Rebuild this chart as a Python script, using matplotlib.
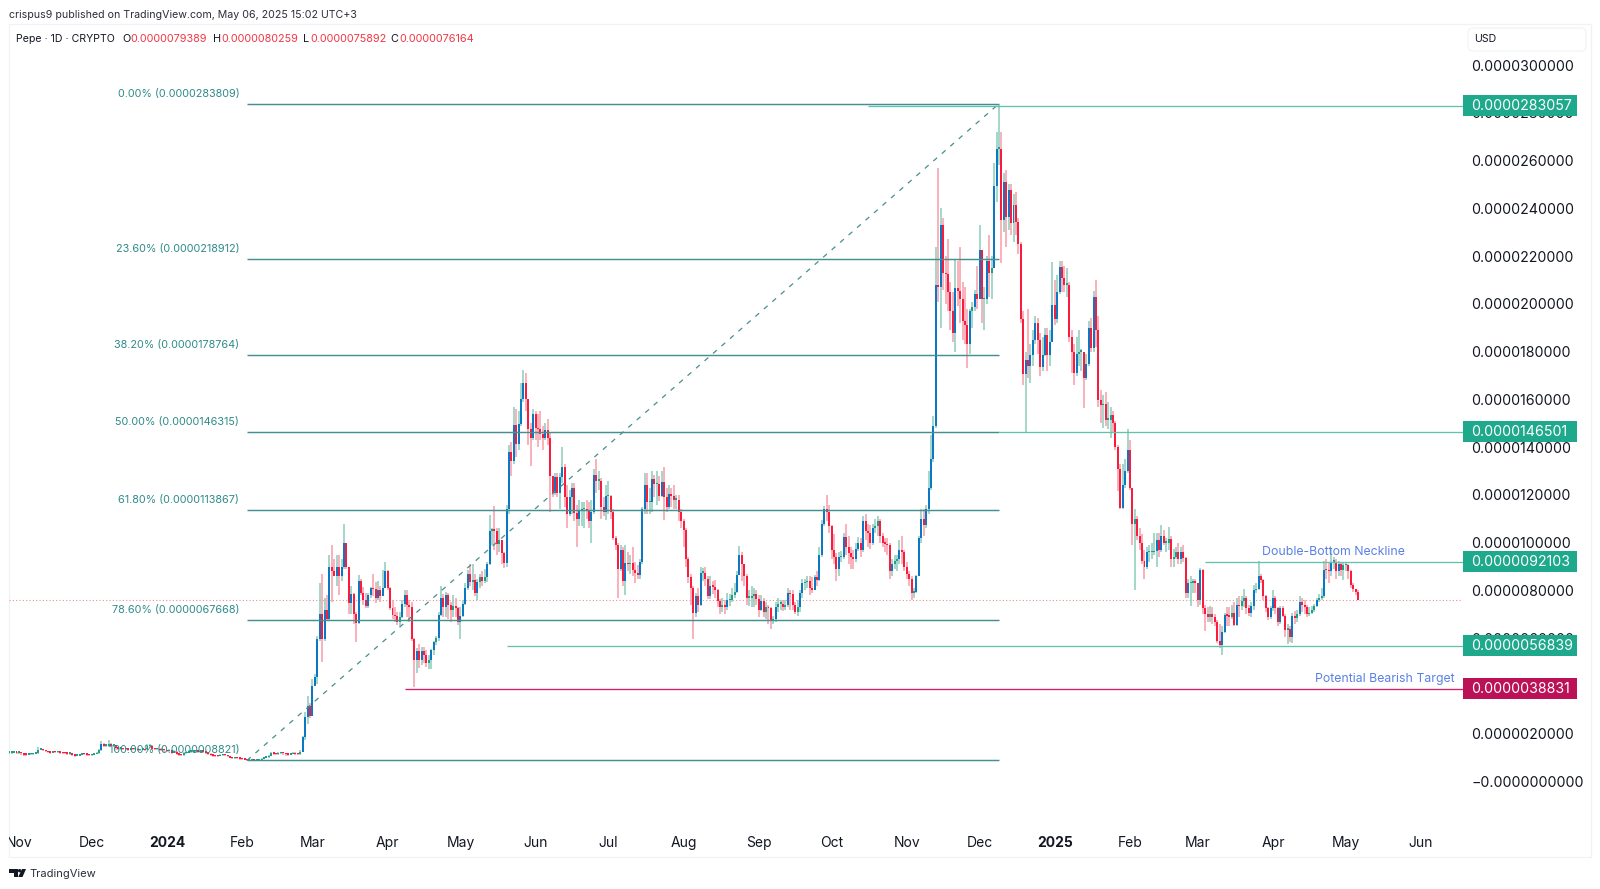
import matplotlib
matplotlib.use("Agg")
import matplotlib.dates as mdates
import matplotlib.pyplot as plt
import numpy as np
import pandas as pd
from matplotlib.patches import Circle, FancyBboxPatch, Polygon, Rectangle
from matplotlib.transforms import Bbox

plt.rcParams["font.family"] = ["Inter", "DejaVu Sans"]

# daily prices in millionths of a USD, one row per month, starting 2023-10-28
closes = [
    1.2, 1.2, 1.22, 1.2,
    1.2, 1.18, 1.13, 1.12, 1.14, 1.15, 1.17, 1.18, 1.33, 1.36, 1.3, 1.26, 1.23, 1.2, 1.24, 1.22, 1.22, 1.2, 1.19, 1.18, 1.17, 1.17, 1.12, 1.08, 1.09, 1.12, 1.16, 1.15, 1.12, 1.1,
    1.12, 1.15, 1.18, 1.3, 1.57, 1.5, 1.5, 1.55, 1.5, 1.52, 1.4, 1.38, 1.38, 1.35, 1.35, 1.34, 1.38, 1.35, 1.36, 1.32, 1.34, 1.36, 1.32, 1.48, 1.5, 1.38, 1.36, 1.38, 1.32, 1.35, 1.3,
    1.28, 1.3, 1.2, 1.25, 1.15, 1.12, 1.1, 1.18, 1.2, 1.25, 1.25, 1.26, 1.26, 1.25, 1.25, 1.24, 1.2, 1.16, 1.1, 1.08, 1.07, 1.06, 1.1, 1.12, 1.1, 1.05, 1.0, 0.98, 1.0, 0.97, 0.95,
    0.93, 0.92, 0.9, 0.9, 0.92, 0.88, 0.9, 0.9, 0.95, 1.0, 1.02, 1.08, 1.18, 1.16, 1.14, 1.18, 1.2, 1.18, 1.14, 1.12, 1.15, 1.2, 1.15, 1.14, 1.25, 1.85, 2.7, 3.15, 2.75,
    4.0, 4.37, 5.95, 7.0, 5.95, 7.2, 6.8, 9.0, 8.8, 8.6, 9.0, 8.6, 9.0, 9.97, 9.0, 7.46, 7.85, 7.0, 6.65, 8.4, 7.9, 7.6, 7.35, 7.8, 8.1, 8.05, 7.67, 8.0, 7.77, 8.1, 8.83,
    8.1, 7.25, 6.97, 6.93, 6.7, 6.9, 7.45, 7.8, 7.4, 7.3, 5.95, 5.1, 5.45, 5.1, 5.45, 5.3, 4.95, 5.1, 5.5, 5.85, 6.0, 6.98, 7.7, 7.3, 7.8, 7.4, 7.2, 7.35, 7.25, 6.7,
    6.95, 7.45, 8.1, 8.7, 8.35, 8.45, 7.9, 8.35, 8.55, 8.4, 8.55, 9.1, 10.5, 10.55, 10.5, 9.95, 10.1, 9.55, 9.17, 11.4, 13.8, 13.42, 14.95, 14.15, 14.97, 16.0, 16.67, 16.0, 14.75, 14.4, 15.4,
    14.8, 14.75, 14.55, 14.4, 14.7, 14.4, 12.8, 12.1, 12.75, 12.07, 12.75, 13.15, 11.9, 11.2, 11.9, 12.3, 11.25, 11.0, 11.35, 11.4, 11.4, 11.35, 10.9, 11.3, 12.85, 12.6, 12.6, 11.5, 11.3, 11.95,
    11.95, 11.3, 10.2, 9.9, 8.9, 9.7, 8.4, 9.13, 9.1, 9.15, 8.85, 8.75, 8.65, 9.2, 11.4, 12.4, 11.7, 11.7, 12.65, 12.45, 12.45, 11.95, 12.55, 11.9, 11.5, 12.05, 11.95, 11.8, 11.8, 11.3, 10.9,
    10.55, 9.3, 8.55, 8.1, 7.05, 7.75, 7.4, 8.75, 8.75, 8.5, 7.75, 8.2, 8.15, 8.0, 7.55, 7.3, 7.4, 7.3, 7.6, 7.6, 7.8, 7.95, 8.65, 9.5, 9.1, 8.6, 7.7, 7.7, 7.75, 7.85, 7.65,
    7.2, 7.55, 7.1, 7.3, 7.25, 6.75, 6.8, 7.3, 7.45, 7.45, 7.3, 7.4, 7.88, 7.85, 7.4, 7.1, 7.3, 7.9, 8.3, 8.35, 8.4, 8.1, 8.0, 8.55, 8.45, 9.5, 10.8, 11.4, 11.3, 10.7,
    9.7, 9.4, 8.9, 9.4, 9.4, 10.25, 9.8, 9.55, 9.4, 9.3, 9.75, 10.0, 9.7, 10.9, 10.5, 10.4, 10.0, 10.6, 10.7, 10.9, 10.3, 10.0, 9.95, 9.9, 8.8, 9.1, 9.25, 9.3, 9.7, 9.6, 9.0,
    8.7, 8.5, 7.9, 7.95, 8.6, 10.2, 11.0, 10.75, 11.4, 12.3, 13.5, 14.9, 20.8, 20.7, 23.3, 21.3, 21.25, 20.5, 19.7, 18.8, 20.65, 20.55, 20.2, 19.3, 19.1, 18.3, 19.7, 19.85, 20.4, 20.2,
    22.25, 20.2, 20.2, 21.8, 21.3, 21.5, 24.95, 26.5, 26.5, 23.5, 25.1, 23.65, 24.75, 23.4, 24.15, 23.45, 22.5, 19.35, 17.05, 17.65, 17.4, 17.85, 18.5, 19.2, 18.5, 17.35, 17.85, 18.7, 17.85, 18.4, 19.95,
    19.35, 20.5, 21.55, 21.1, 20.8, 20.8, 18.6, 18.0, 17.1, 17.9, 18.0, 18.0, 16.9, 17.5, 19.0, 18.15, 20.3, 18.9, 15.98, 15.75, 15.8, 15.15, 15.15, 15.35, 15.0, 14.0, 13.1, 11.45, 12.4, 13.0, 13.9,
    12.3, 10.8, 11.0, 10.3, 10.0, 9.25, 9.0, 9.6, 9.6, 9.6, 9.65, 10.1, 9.7, 10.3, 10.0, 10.0, 10.15, 9.3, 9.4, 9.6, 9.3, 9.6, 9.35, 7.9, 8.3, 8.3, 8.4, 8.3,
    7.6, 8.85, 7.25, 7.0, 6.9, 7.0, 6.9, 6.7, 5.9, 5.7, 6.28, 6.97, 6.95, 6.9, 7.05, 6.55, 7.4, 7.35, 7.55, 7.7, 7.25, 7.05, 7.35, 8.0, 8.05, 8.6, 8.45, 7.75, 7.25, 6.9, 7.25,
    7.7, 7.25, 6.7, 7.25, 6.95, 6.35, 6.4, 6.05, 6.95, 6.85, 7.0, 7.5, 7.4, 7.3, 7.0, 7.05, 7.2, 7.35, 7.6, 7.7, 7.75, 8.86, 8.85, 8.8, 9.2, 9.2, 8.8, 9.1, 8.85, 9.05,
    9.05, 8.8, 8.22, 8.06, 7.94, 7.62,
]
highs = [
    1.25, 1.24, 1.26, 1.24,
    1.24, 1.22, 1.19, 1.16, 1.17, 1.18, 1.2, 1.22, 1.46, 1.42, 1.36, 1.31, 1.28, 1.26, 1.28, 1.26, 1.25, 1.24, 1.23, 1.22, 1.2, 1.2, 1.18, 1.13, 1.12, 1.15, 1.2, 1.19, 1.17, 1.14,
    1.16, 1.18, 1.22, 1.38, 1.68, 1.62, 1.58, 1.72, 1.6, 1.58, 1.54, 1.44, 1.42, 1.42, 1.4, 1.38, 1.42, 1.42, 1.42, 1.4, 1.38, 1.4, 1.38, 1.56, 1.56, 1.52, 1.42, 1.42, 1.4, 1.4, 1.38,
    1.34, 1.36, 1.34, 1.3, 1.28, 1.18, 1.16, 1.22, 1.24, 1.3, 1.3, 1.3, 1.3, 1.3, 1.29, 1.28, 1.26, 1.22, 1.18, 1.13, 1.11, 1.1, 1.14, 1.16, 1.15, 1.12, 1.07, 1.03, 1.04, 1.02, 1.0,
    0.97, 0.96, 0.94, 0.93, 0.95, 0.92, 0.93, 0.94, 0.99, 1.04, 1.06, 1.12, 1.24, 1.22, 1.19, 1.22, 1.24, 1.23, 1.19, 1.16, 1.2, 1.25, 1.22, 1.18, 1.32, 1.9, 2.9, 3.6, 3.3,
    4.3, 4.5, 6.1, 8.3, 8.7, 7.7, 7.8, 9.5, 9.9, 9.3, 9.5, 9.5, 9.3, 10.8, 10.0, 9.0, 8.2, 7.9, 7.1, 8.65, 8.5, 8.15, 7.9, 7.9, 8.15, 8.7, 8.35, 8.4, 8.2, 8.85, 9.2,
    8.85, 8.15, 7.6, 7.3, 7.1, 7.1, 7.6, 8.0, 8.0, 7.6, 7.5, 6.0, 5.6, 5.75, 5.65, 5.65, 5.5, 5.3, 5.55, 5.9, 6.1, 7.1, 8.2, 7.85, 7.95, 7.9, 7.5, 7.8, 7.7, 7.3,
    7.3, 7.6, 8.3, 8.85, 9.1, 9.1, 8.7, 8.5, 8.7, 8.8, 8.9, 9.2, 11.15, 10.6, 11.55, 10.6, 10.6, 10.1, 9.6, 11.6, 14.1, 14.2, 15.7, 15.6, 15.5, 16.7, 17.22, 17.1, 16.0, 15.0, 15.6,
    15.5, 15.4, 15.5, 14.9, 15.0, 15.2, 14.6, 12.8, 12.9, 12.9, 12.9, 14.0, 13.3, 12.4, 12.2, 12.5, 12.5, 11.6, 11.8, 11.7, 11.7, 11.8, 11.7, 11.8, 13.1, 13.5, 13.0, 12.7, 11.9, 12.4,
    12.6, 12.0, 11.4, 10.3, 10.0, 9.9, 9.8, 9.9, 9.6, 9.5, 9.8, 9.2, 9.05, 9.3, 11.5, 12.9, 12.9, 12.3, 13.0, 12.85, 13.0, 12.8, 13.0, 13.15, 12.3, 12.4, 12.3, 12.4, 12.0, 12.0, 11.4,
    11.0, 10.6, 9.4, 8.7, 8.2, 7.9, 8.1, 9.0, 8.95, 9.0, 8.6, 8.6, 8.4, 8.45, 8.05, 7.65, 7.7, 7.6, 7.9, 7.85, 8.1, 8.3, 8.8, 9.85, 9.6, 9.0, 8.7, 8.0, 8.2, 8.1, 8.0,
    7.8, 7.8, 7.7, 7.5, 7.4, 7.3, 6.95, 7.5, 7.7, 7.6, 7.6, 7.6, 8.1, 8.0, 8.0, 7.5, 7.6, 8.0, 8.5, 8.5, 8.6, 8.6, 8.55, 8.65, 8.8, 9.8, 10.95, 11.55, 12.0, 11.6,
    10.75, 10.35, 9.55, 9.6, 9.65, 10.4, 10.8, 10.3, 9.8, 9.7, 10.0, 10.25, 10.2, 11.1, 11.2, 10.8, 10.75, 10.8, 11.0, 11.1, 11.0, 10.4, 10.2, 10.2, 10.0, 9.3, 9.5, 9.5, 10.1, 10.3, 9.7,
    9.2, 8.8, 8.6, 8.1, 8.65, 10.3, 11.4, 11.4, 11.6, 13.0, 14.5, 15.3, 22.4, 25.7, 24.0, 23.6, 22.0, 22.7, 20.9, 20.5, 21.9, 21.8, 22.4, 20.9, 20.7, 19.8, 19.8, 20.1, 20.6, 21.6,
    23.3, 22.2, 20.7, 22.0, 22.9, 22.0, 25.9, 27.2, 28.31, 27.2, 25.5, 25.6, 25.0, 25.0, 24.6, 24.7, 23.6, 22.6, 19.7, 18.0, 19.8, 18.3, 18.9, 19.5, 19.4, 18.8, 18.6, 19.0, 19.0, 18.9, 21.75,
    21.0, 21.2, 21.8, 21.8, 21.6, 21.5, 20.9, 18.9, 18.3, 18.6, 18.9, 18.1, 18.0, 17.9, 19.3, 19.4, 20.55, 21.0, 19.5, 16.4, 16.2, 16.3, 15.9, 15.7, 15.5, 15.1, 14.1, 13.3, 13.3, 13.5, 14.75,
    14.3, 12.2, 11.4, 11.1, 10.6, 10.35, 9.7, 9.8, 9.9, 10.0, 10.4, 10.4, 10.4, 10.75, 10.55, 10.2, 10.65, 10.3, 9.75, 9.8, 10.0, 9.8, 9.9, 9.4, 8.5, 8.6, 8.5, 8.5,
    8.3, 8.95, 8.9, 7.4, 7.3, 7.35, 7.3, 7.0, 6.75, 6.6, 6.5, 7.05, 7.3, 7.3, 7.4, 7.5, 7.7, 7.75, 7.75, 8.05, 7.75, 7.4, 7.5, 8.25, 8.3, 9.25, 8.7, 8.5, 7.8, 7.3, 7.35,
    8.0, 7.75, 7.3, 7.35, 7.35, 7.0, 6.6, 6.5, 7.05, 7.15, 7.2, 7.75, 7.7, 7.6, 7.4, 7.3, 7.35, 7.45, 7.7, 7.85, 8.1, 9.25, 9.3, 9.2, 9.78, 9.4, 9.3, 9.25, 9.2, 9.2,
    9.2, 9.1, 8.85, 8.3, 8.03, 8.03,
]
lows = [
    1.17, 1.17, 1.18, 1.17,
    1.16, 1.12, 1.08, 1.08, 1.1, 1.12, 1.13, 1.14, 1.17, 1.3, 1.26, 1.23, 1.18, 1.17, 1.19, 1.18, 1.18, 1.17, 1.15, 1.14, 1.13, 1.12, 1.08, 1.04, 1.05, 1.08, 1.11, 1.11, 1.08, 1.07,
    1.08, 1.1, 1.14, 1.16, 1.28, 1.44, 1.44, 1.46, 1.44, 1.46, 1.34, 1.33, 1.32, 1.3, 1.3, 1.29, 1.32, 1.3, 1.3, 1.27, 1.29, 1.3, 1.27, 1.3, 1.42, 1.34, 1.32, 1.33, 1.27, 1.29, 1.24,
    1.22, 1.24, 1.14, 1.18, 1.1, 1.07, 1.05, 1.08, 1.15, 1.19, 1.2, 1.21, 1.21, 1.2, 1.2, 1.2, 1.15, 1.12, 1.06, 1.04, 1.03, 1.02, 1.05, 1.08, 1.06, 1.02, 0.97, 0.94, 0.95, 0.93, 0.91,
    0.9, 0.89, 0.87, 0.87, 0.88, 0.86, 0.87, 0.87, 0.9, 0.94, 0.98, 1.0, 1.07, 1.12, 1.1, 1.13, 1.15, 1.13, 1.09, 1.08, 1.1, 1.14, 1.1, 1.1, 1.12, 1.22, 1.75, 2.4, 2.65,
    2.9, 4.0, 4.1, 5.9, 5.0, 5.9, 6.76, 6.76, 7.5, 8.6, 8.2, 7.8, 8.4, 8.9, 8.9, 7.0, 7.0, 6.6, 5.85, 6.6, 7.8, 7.4, 7.25, 7.25, 7.67, 7.75, 7.46, 7.6, 7.5, 7.75, 8.1,
    8.0, 7.2, 6.8, 6.7, 6.55, 6.5, 6.85, 7.3, 6.9, 6.7, 5.9, 3.95, 4.55, 4.75, 4.9, 4.95, 4.8, 4.7, 4.7, 5.3, 5.7, 5.9, 6.95, 6.9, 6.9, 6.8, 6.7, 6.9, 6.9, 6.55,
    5.95, 6.9, 7.4, 8.0, 8.2, 8.0, 7.75, 7.6, 8.1, 8.2, 8.3, 8.35, 9.05, 9.9, 9.7, 9.5, 9.6, 9.1, 8.95, 9.0, 11.2, 12.8, 13.3, 13.6, 13.9, 14.9, 15.9, 15.5, 14.1, 13.2, 14.3,
    14.3, 14.0, 14.3, 13.9, 14.3, 14.1, 11.3, 11.9, 12.0, 11.9, 11.4, 12.5, 11.5, 10.6, 11.1, 11.2, 10.9, 9.8, 10.7, 10.7, 10.6, 11.0, 10.6, 10.0, 11.2, 12.1, 12.2, 11.0, 11.1, 10.95,
    11.2, 11.0, 10.1, 9.7, 7.7, 8.8, 8.2, 7.8, 8.8, 8.7, 8.6, 8.3, 8.5, 8.5, 9.1, 11.2, 11.2, 11.2, 11.3, 11.9, 11.6, 11.75, 11.9, 10.95, 11.3, 11.4, 11.5, 11.4, 11.4, 10.9, 10.6,
    9.8, 9.0, 8.3, 7.4, 5.95, 6.9, 7.1, 7.35, 8.4, 8.2, 7.65, 7.65, 7.85, 7.7, 7.3, 7.0, 7.1, 7.0, 7.2, 7.35, 7.5, 7.7, 7.9, 8.9, 8.4, 8.2, 7.4, 7.35, 7.3, 7.3, 7.4,
    6.9, 7.15, 6.9, 6.8, 6.6, 6.4, 6.6, 6.7, 7.1, 7.2, 7.15, 7.2, 7.3, 7.2, 7.2, 7.0, 6.95, 7.1, 7.7, 8.0, 8.1, 7.8, 7.9, 8.1, 8.2, 8.4, 9.4, 10.7, 10.9, 10.4,
    9.3, 9.1, 8.4, 8.6, 9.2, 9.3, 9.5, 9.1, 8.9, 8.9, 9.2, 9.65, 9.4, 9.6, 10.1, 9.8, 9.75, 9.9, 10.4, 10.3, 10.0, 9.8, 9.6, 9.5, 8.5, 8.6, 8.9, 8.8, 9.1, 9.1, 8.8,
    8.5, 8.2, 7.6, 7.7, 7.9, 8.6, 10.0, 10.3, 10.6, 11.2, 12.2, 13.4, 14.8, 20.1, 19.0, 20.6, 20.0, 19.7, 18.9, 18.4, 18.0, 19.9, 19.2, 18.5, 18.3, 17.3, 17.9, 19.0, 19.7, 19.8,
    20.4, 19.2, 18.9, 20.0, 20.3, 20.2, 21.5, 24.25, 25.8, 21.7, 23.0, 22.4, 23.1, 22.9, 22.6, 22.9, 22.1, 19.2, 16.6, 14.65, 16.9, 16.7, 17.4, 18.3, 17.9, 17.0, 17.2, 17.8, 17.2, 17.4, 18.4,
    19.1, 19.2, 20.4, 20.5, 20.5, 20.3, 18.4, 17.1, 16.6, 17.0, 17.4, 17.2, 15.65, 16.8, 17.4, 18.0, 18.0, 18.2, 15.7, 15.0, 14.8, 14.9, 14.75, 14.4, 14.6, 13.9, 12.15, 11.4, 11.4, 12.3, 12.9,
    12.2, 9.9, 8.0, 10.1, 9.7, 9.1, 8.5, 8.9, 9.2, 9.3, 9.5, 9.0, 9.4, 9.6, 9.9, 9.6, 9.7, 9.0, 9.0, 9.3, 9.1, 9.1, 9.2, 7.7, 7.7, 7.35, 7.9, 7.9,
    7.3, 7.4, 7.0, 6.3, 6.7, 6.7, 6.6, 6.5, 5.8, 5.6, 5.3, 6.2, 6.5, 6.5, 6.8, 6.5, 6.5, 6.9, 7.2, 7.3, 7.0, 6.95, 6.9, 7.2, 7.9, 8.0, 8.3, 7.6, 7.1, 6.75, 6.8,
    7.15, 7.0, 6.5, 6.6, 6.9, 6.05, 5.75, 5.85, 5.8, 6.6, 6.7, 6.95, 7.1, 7.0, 6.9, 6.95, 7.0, 7.1, 7.3, 7.5, 7.6, 7.7, 8.5, 8.3, 8.6, 8.9, 8.5, 8.6, 8.6, 8.45,
    8.8, 8.5, 8.1, 7.95, 7.8, 7.59,
]

fib_labels = ["0.00%", "23.60%", "38.20%", "50.00%", "61.80%", "78.60%", "100.00%"]
fib_levels = [28.3809, 21.8912, 17.8764, 14.6315, 11.3867, 6.7668, 0.8821]
badge_levels = [28.3057, 14.6501, 9.2103, 5.6839, 3.8831]
badge_starts = ["2024-10-16", "2024-12-09", "2025-03-04", "2024-05-20", "2024-04-08"]
last_price = 7.6164

month_ticks = ["2023-11-01", "2023-12-01", "2024-01-01", "2024-02-01", "2024-03-01", "2024-04-01", "2024-05-01",
               "2024-06-01", "2024-07-01", "2024-08-01", "2024-09-01", "2024-10-01", "2024-11-01", "2024-12-01",
               "2025-01-01", "2025-02-01", "2025-03-01", "2025-04-01", "2025-05-01", "2025-06-01"]
month_labels = ["Nov", "Dec", "2024", "Feb", "Mar", "Apr", "May", "Jun", "Jul", "Aug", "Sep", "Oct", "Nov", "Dec",
                "2025", "Feb", "Mar", "Apr", "May", "Jun"]
price_ticks = list(range(0, 32, 2))

UP_BODY = "#0b78c4"
UP_SMALL = "#1f9e8c"
UP_WICK = "#8fcdbd"
DOWN_BODY = "#fb1c3d"
DOWN_WICK = "#f9a0ac"
FIB = "#468f90"
TEAL = "#63c2ab"
BADGE = "#1fa98c"
CRIMSON = "#bb1257"
CRIMSON_LINE = "#d81e6b"
TEXT = "#131722"
NOTE = "#5a80e6"

W, H = 1600, 889


def fx(x):
    return x / W


def fy(y):
    return 1 - y / H


if not len(closes) == len(highs) == len(lows):
    raise ValueError(f"{len(closes)} {len(highs)} {len(lows)}")

dates = pd.date_range("2023-10-28", periods=len(closes), freq="D")
days = mdates.date2num(dates)
close = np.array(closes)
high = np.array(highs)
low = np.array(lows)
open_ = np.r_[close[0], close[:-1]]
up = close >= open_
small = np.abs(close - open_) < 0.25

fig = plt.figure(figsize=(W / 100, H / 100), dpi=100, facecolor="white")

fig.add_artist(FancyBboxPatch((fx(8.5), fy(857)), fx(1582), 833 / H, boxstyle="square,pad=0",
                              transform=fig.transFigure, fc="white", ec="#f0f2f6", lw=0.9, zorder=-5))

ax = fig.add_axes([fx(8.5), fy(825), fx(1454.5), 801 / H])
ax.set_facecolor("none")
for spine in ax.spines.values():
    spine.set_visible(False)

# candles
wick_colors = np.where(up, UP_WICK, DOWN_WICK)
ax.vlines(days, low, high, colors=wick_colors, lw=1.15, zorder=3)
body_colors = np.where(up, np.where(small, UP_SMALL, UP_BODY), DOWN_BODY)
ax.bar(days, np.maximum(np.abs(close - open_), 0.06), bottom=np.minimum(open_, close), width=0.82,
       color=body_colors, lw=0, zorder=3.2)

ax.set_xlim(mdates.date2num(pd.Timestamp("2023-11-01")) - 4.3, mdates.date2num(pd.Timestamp("2023-11-01")) + 595.3)
ax.set_ylim(-1.82, 31.72)

# price line of the last close
ax.axhline(last_price, color="#ee8f8f", lw=0.8, ls=(0, (1, 2)), zorder=2)

# fib retracement
fib_start = mdates.date2num(pd.Timestamp("2024-02-03"))
fib_end = mdates.date2num(pd.Timestamp("2024-12-09"))
ax.hlines(fib_levels, fib_start, fib_end, colors=FIB, lw=1.05, zorder=4)
ax.plot([fib_start, fib_end], [fib_levels[-1], fib_levels[0]], color=FIB, lw=0.9, ls=(0, (4, 5)), zorder=4)
for label, level in zip(fib_labels, fib_levels):
    ax.annotate(f"{label} ({level / 1e6:.10f})", (fib_start, level), xytext=(-5.5, 3.6),
                textcoords="offset points", ha="right", va="bottom", fontsize=7.8, color="#2f8a8a", zorder=5)

# horizontal levels with their price badges
trans = ax.get_yaxis_transform()
for level, start in zip(badge_levels, badge_starts):
    is_target = level == badge_levels[-1]
    color = CRIMSON_LINE if is_target else TEAL
    fill = CRIMSON if is_target else BADGE
    ax.hlines(level, mdates.date2num(pd.Timestamp(start)), ax.get_xlim()[1], colors=color, lw=0.95, zorder=4)
    ax.add_patch(Rectangle((1.0, level - 0.44), 114 / 1454.5, 0.88, transform=trans, fc=fill, ec="none",
                           clip_on=False, zorder=6))
    ax.text(1 + 8 / 1454.5, level - 0.02, f"{level / 1e6:.10f}", transform=trans, color="white", fontsize=10.2,
            va="center", ha="left", clip_on=False, zorder=7)

ax.text(mdates.date2num(pd.Timestamp("2025-04-26")), 9.36, "Double-Bottom Neckline", color=NOTE, fontsize=8.85,
        ha="center", va="bottom", zorder=5)
ax.text(mdates.date2num(pd.Timestamp("2025-05-31")) + 15, 4.03, "Potential Bearish Target", color=NOTE, fontsize=8.85,
        ha="right", va="bottom", zorder=5)

# axes
ax.yaxis.tick_right()
ax.set_yticks(price_ticks)
ax.set_yticklabels([(f"{v / 1e6:.10f}" if v else "\u22120.0000000000") for v in price_ticks])
ax.tick_params(axis="y", length=0, pad=5.8, labelsize=10.2, labelcolor=TEXT)
ax.set_xticks(mdates.date2num(pd.to_datetime(month_ticks)))
ax.set_xticklabels(month_labels)
ax.tick_params(axis="x", length=0, pad=8.2, labelsize=10, labelcolor=TEXT)
for lbl in ax.get_xticklabels():
    if lbl.get_text().isdigit():
        lbl.set_fontweight("bold")
    lbl.set_clip_box(Bbox([[8.5, 0], [W, H]]))
    lbl.set_clip_on(True)

# header
fig.text(fx(9), fy(15), "crispus9 published on TradingView.com, May 06, 2025 15:02 UTC+3", fontsize=7.65,
         color="#2a2e39", ha="left", va="center")
fig.text(fx(16), fy(39), "Pepe \u00b7 1D \u00b7 CRYPTO", fontsize=7.6, color=TEXT, ha="left", va="center")
for x_letter, letter, x_value, value in [(122, "O", 130.5, "0.0000079389"), (212.7, "H", 221, "0.0000080259"),
                                         (303, "L", 310, "0.0000075892"), (390.7, "C", 399, "0.0000076164")]:
    fig.text(fx(x_letter), fy(39), letter, fontsize=7.8, color=TEXT, ha="left", va="center")
    fig.text(fx(x_value), fy(39), value, fontsize=7.8, color="#f23645", ha="left", va="center")

# currency box
fig.add_artist(FancyBboxPatch((fx(1468), fy(51)), fx(118), 23 / H, boxstyle="round,pad=0,rounding_size=0.003",
                              transform=fig.transFigure, fc="white", ec="#f0f2f6", lw=0.8, mutation_aspect=1.8))
fig.text(fx(1474), fy(39.5), "USD", fontsize=7.6, color=TEXT, ha="left", va="center")

# footer logo
logo = "#131722"
fig.add_artist(Polygon([(fx(9), fy(869)), (fx(17.5), fy(869)), (fx(17.5), fy(877)), (fx(13.5), fy(877)),
                        (fx(13.5), fy(872.5)), (fx(9), fy(872.5))], transform=fig.transFigure, fc=logo, ec="none"))
fig.add_artist(Polygon([(fx(22), fy(869)), (fx(26), fy(869)), (fx(22.5), fy(877)), (fx(18.2), fy(877))],
                       transform=fig.transFigure, fc=logo, ec="none"))
fig.add_artist(Circle((19.6, H - 870.7), 1.7, transform=None, fc=logo, ec="none"))
fig.text(fx(29.5), fy(874), "TradingView", fontsize=8.0, color="#2a2e39", ha="left", va="center")

fig.savefig("out.png", dpi=100)
